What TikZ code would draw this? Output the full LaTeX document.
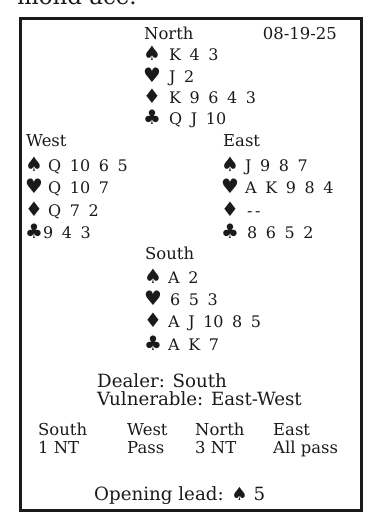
\documentclass[tikz,border=0pt]{standalone}
\usepackage{fontspec}
\setmainfont{DejaVu Serif}
\newfontfamily\handfont{DejaVu Serif}[WordSpace=1.7]
\newfontfamily\suitfont{DejaVu Sans}
\definecolor{ink}{HTML}{1A1A1A}
\tikzset{
  lbl/.style={anchor=base west, inner sep=0pt, text=ink, font=\fontsize{16.5}{20}\selectfont},
  card/.style={anchor=base west, inner sep=0pt, text=ink, font=\handfont\fontsize{16}{20}\selectfont},
  suit/.style={anchor=base west, inner sep=0pt, text=ink, font=\suitfont\fontsize{20}{22}\selectfont},
  big/.style={anchor=base west, inner sep=0pt, text=ink, font=\fontsize{18.3}{22}\selectfont},
  frame/.style={draw=ink, line width=2.6bp}
}
\begin{document}
\begin{tikzpicture}[x=1bp,y=-1bp]
\useasboundingbox (0,0) rectangle (370,516);
\begin{scope}
\clip (0,0) rectangle (370,516);
\node[anchor=base west, inner sep=0pt, text=ink, font=\fontsize{23}{26}\selectfont] (top) at (17,5) {mond ace.};
\end{scope}
\draw[frame] (20.5,18.5) rectangle (361.5,510.5);
% North
\node[lbl] (north) at (144,40) {North};
\node[lbl, anchor=base east] (date) at (337,40) {08-19-25};
\node[suit] (nSs) at (143,61) {♠};
\node[card] (nSc) at (169,61) {K 4 3};
\node[suit] (nHs) at (143,83) {♥};
\node[card] (nHc) at (169,83) {J 2};
\node[suit] (nDs) at (143,104) {♦};
\node[card] (nDc) at (169,104) {K 9 6 4 3};
\node[suit] (nCs) at (143,125) {♣};
\node[card] (nCc) at (169,125) {Q J 10};
% West
\node[lbl] (west) at (26,147) {West};
\node[suit] (wSs) at (25,172) {♠};
\node[card] (wSc) at (48,172) {Q 10 6 5};
\node[suit] (wHs) at (25,194) {♥};
\node[card] (wHc) at (48,194) {Q 10 7};
\node[suit] (wDs) at (25,216) {♦};
\node[card] (wDc) at (48,216) {Q 7 2};
\node[suit] (wCs) at (25,238) {♣};
\node[card] (wCc) at (43,238) {9 4 3};
% East
\node[lbl] (east) at (223,147) {East};
\node[suit] (eSs) at (221,172) {♠};
\node[card] (eSc) at (245,172) {J 9 8 7};
\node[suit] (eHs) at (221,194) {♥};
\node[card] (eHc) at (245,194) {A K 9 8 4};
\node[suit] (eDs) at (221,216) {♦};
\node[card] (eDc) at (247,216) {-\,-};
\node[suit] (eCs) at (221,238) {♣};
\node[card] (eCc) at (247,238) {8 6 5 2};
% South
\node[lbl] (south) at (145,259) {South};
\node[suit] (sSs) at (144,283) {♠};
\node[card] (sSc) at (168,283) {A 2};
\node[suit] (sHs) at (144,305) {♥};
\node[card] (sHc) at (170,305) {6 5 3};
\node[suit] (sDs) at (144,327) {♦};
\node[card] (sDc) at (168,327) {A J 10 8 5};
\node[suit] (sCs) at (144,350) {♣};
\node[card] (sCc) at (168,350) {A K 7};
% Info
\node[big] (dealer) at (97,387) {Dealer: South};
\node[big] (vul) at (97,405) {Vulnerable: East-West};
% Auction
\node[lbl] (aS) at (38,435) {South};
\node[lbl] (aW) at (127,435) {West};
\node[lbl] (aN) at (195,435) {North};
\node[lbl] (aE) at (273,435) {East};
\node[lbl] (bS) at (38,453) {1 NT};
\node[lbl] (bW) at (127,453) {Pass};
\node[lbl] (bN) at (195,453) {3 NT};
\node[lbl] (bE) at (273,453) {All pass};
\node[big] (lead) at (94,500) {Opening lead: {\suitfont ♠} 5};
\end{tikzpicture}
\end{document}
